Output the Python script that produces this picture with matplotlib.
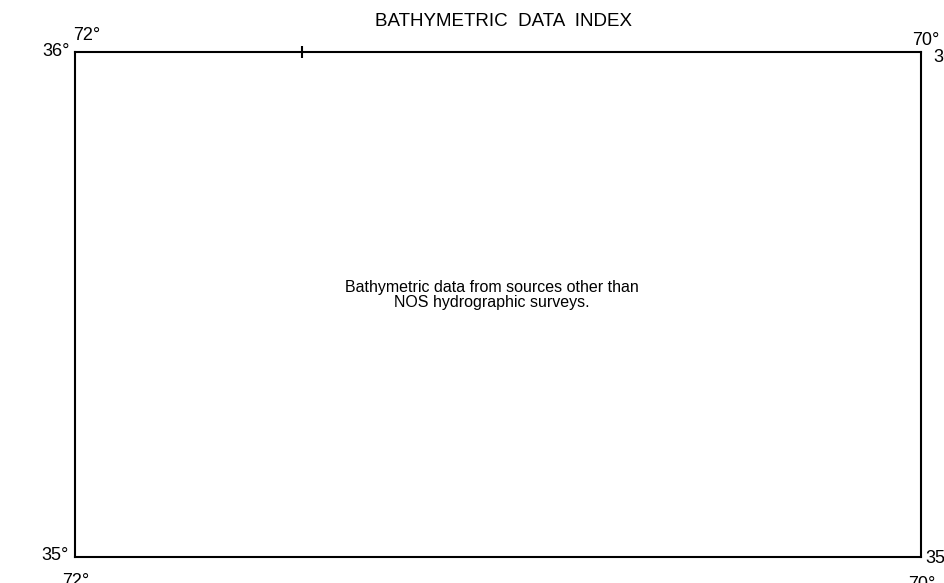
import matplotlib
matplotlib.use("Agg")
import matplotlib.pyplot as plt

# map extent (degrees, west longitude / north latitude)
lon_west, lon_east = 72.0, 70.0
lat_south, lat_north = 35.0, 36.0
top_ticks = [71.464]

title = "BATHYMETRIC  DATA  INDEX"
note = "Bathymetric data from sources other than\nNOS hydrographic surveys."

# corner labels: (text, x px, y px, ha)
corner_labels = [
    ("72°", 73, 40, "left"),
    ("36°", 70, 56, "right"),
    ("70°", 912, 45, "left"),
    ("36°", 933, 62, "left"),
    ("35°", 69, 560, "right"),
    ("72°", 62, 586, "left"),
    ("35°", 925, 563, "left"),
    ("70°", 908, 589, "left"),
]

W, H = 945, 583
plt.rcParams['font.family'] = ['Liberation Sans', 'DejaVu Sans']
fig = plt.figure(figsize=(W / 100, H / 100), dpi=100)
ax = fig.add_axes([75 / W, 1 - 557 / H, 846 / W, 505 / H])
ax.set_xlim(lon_west, lon_east)
ax.set_ylim(lat_south, lat_north)
for s in ax.spines.values():
    s.set_linewidth(1.5)
    s.set_color("black")

ax.set_yticks([])
ax.set_xticks(top_ticks)
ax.xaxis.set_ticks_position("top")
ax.tick_params(axis="x", direction="inout", length=9, width=1.5, labeltop=False, labelbottom=False)

fig.text(492 / W, 1 - 295 / H, note, ha="center", va="center",
         fontsize=11.5, linespacing=1.0)

fig.text(504 / W, 1 - 22 / H, title, ha="center", va="center", fontsize=13.5)
for txt, x, y, ha in corner_labels:
    fig.text(x / W, 1 - y / H, txt, ha=ha, va="baseline", fontsize=13)

fig.savefig("out.png", dpi=100)
